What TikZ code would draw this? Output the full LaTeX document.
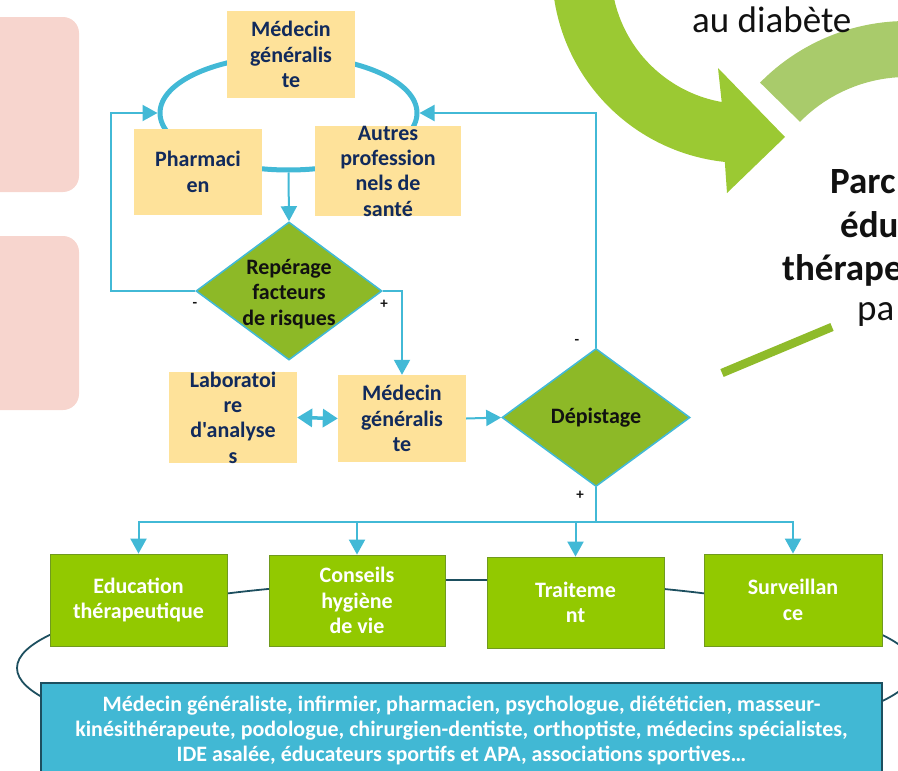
\documentclass[tikz,border=0pt]{standalone}
\usepackage{fontspec}
\setmainfont{Carlito}[Ligatures=TeXOff]
\usetikzlibrary{arrows.meta,shapes.geometric}
\definecolor{pinkbg}{HTML}{F7D5CE}
\definecolor{yel}{HTML}{FEE29A}
\definecolor{navy}{HTML}{112A5C}
\definecolor{lblue}{HTML}{42B9D6}
\definecolor{olive}{HTML}{8DB927}
\definecolor{brgreen}{HTML}{92C900}
\definecolor{gborder}{HTML}{709A1E}
\definecolor{dteal}{HTML}{1D4F5F}
\definecolor{boxblue}{HTML}{41B8D4}
\definecolor{arrowgreen}{HTML}{9BC933}
\definecolor{lightgreen}{HTML}{A9CB6B}
\definecolor{linegreen}{HTML}{8FBB2A}
\definecolor{inkblack}{HTML}{111111}
\newcommand{\myboxfont}{\fontsize{22}{25.3}\selectfont\bfseries}
\newcommand{\mybluefont}{\fontsize{22}{25}\selectfont\bfseries}
\newcommand{\mybigfont}{\fontsize{37}{42}\selectfont}
\begin{document}
\begin{tikzpicture}[x=1pt,y=-1pt,
  tri/.tip={Triangle[width=16pt,length=15pt]},
  ybox/.style={rectangle, fill=yel, draw=none, inner sep=0pt, minimum width=128pt, minimum height=87pt, align=center, text=navy, font=\myboxfont},
  gbox/.style={rectangle, fill=brgreen, draw=gborder, line width=0.8pt, inner sep=0pt, minimum height=92pt, align=center, text=white, font=\myboxfont},
  dia/.style={diamond, fill=olive, draw=lblue, line width=1.6pt, inner sep=0pt, minimum width=186pt, minimum height=138pt},
  dtext/.style={align=center, text=inkblack, font=\myboxfont, inner sep=0pt},
  conn/.style={draw=lblue, line width=2pt},
  sign/.style={text=inkblack, font=\fontsize{15}{15}\selectfont\bfseries, inner sep=0pt},
  bigtxt/.style={anchor=base west, inner sep=0pt, text=inkblack, font=\mybigfont}
]
\useasboundingbox (0,0) rectangle (898,771);
\clip (0,0) rectangle (898,771);

% pink background panels (left, cropped)
\fill[pinkbg, rounded corners=16pt] (-40,17) rectangle (79,192);
\fill[pinkbg, rounded corners=16pt] (-40,236) rectangle (79,410);

% big green curved arrow (top right, cropped)
\fill[arrowgreen] (745,-30) ++(200:193) arc[start angle=200, end angle=96, radius=193]
  -- (727,193) -- (785,137) -- (718,68) -- (721.7,102.0)
  arc[start angle=100, end angle=200, radius=134] -- cycle;
% light green band
\fill[lightgreen] (907,227) ++(224.5:206) arc[start angle=224.5, end angle=285, radius=206]
  -- (945.8,82.1) arc[start angle=285, end angle=224.5, radius=150] -- cycle;
% green bar
\draw[linegreen, line width=8.5pt] (722,373) -- (832,327);

% cropped texts on the right
\node[bigtxt] (diab) at (692,32) {au diabète};
\node[bigtxt, font=\mybigfont\bfseries] (parc1) at (830,193) {Parc};
\node[bigtxt, font=\mybigfont\bfseries] (parc2) at (840,237) {édu};
\node[bigtxt, font=\mybigfont\bfseries] (parc3) at (782,280) {thérape};
\node[bigtxt] (parc4) at (857,320) {pa};

% bottom cycle ellipse
\node[ellipse, draw=dteal, line width=1.8pt, inner sep=0pt, minimum width=898pt, minimum height=176pt] (cyc) at (466,668) {};

% blue team box
\node[rectangle, fill=boxblue, draw=dteal, line width=1.8pt, inner sep=0pt, minimum width=841pt, minimum height=130pt] (team) at (461.5,748) {};
\node[align=center, text=white, font=\mybluefont, inner sep=0pt] (teamtxt) at (461.5,730.5)
  {Médecin généraliste, infirmier, pharmacien, psychologue, diététicien, masseur-\\
   kinésithérapeute, podologue, chirurgien-dentiste, orthoptiste, médecins spécialistes,\\
   IDE asalée, éducateurs sportifs et APA, associations sportives…};

% green boxes
\node[gbox, minimum width=177pt] (edu) at (138.5,600) {Education\\thérapeutique};
\node[gbox, minimum width=176pt, minimum height=91pt] (con) at (357,600.5) {Conseils\\hygiène\\de vie};
\node[gbox, minimum width=177pt, minimum height=91pt] (tra) at (575.5,602.5) {Traiteme\\nt};
\node[gbox, minimum width=178pt] (sur) at (793,600) {Surveillan\\ce};

% top ring
\node[ellipse, draw=lblue, line width=5pt, inner sep=0pt, minimum width=257pt, minimum height=114pt] (ring) at (288.5,113) {};

% yellow boxes
\node[ybox] (mg1) at (291,54.5) {Médecin\\généralis\\te};
\node[ybox, minimum height=86pt] (ph) at (198,172) {Pharmaci\\en};
\node[ybox, minimum width=146pt, minimum height=86pt] (ap) at (388,171) {Autres\\profession\\nels de\\santé};
\node[ybox] (lab) at (233,417.5) {Laboratoi\\re\\d'analyse\\s};
\node[ybox] (mg2) at (402,418.5) {Médecin\\généralis\\te};

% diamonds
\node[dia] (rep) at (289,291) {};
\node[dtext] (reptxt) at (289,294) {Repérage\\facteurs\\de risques};
\node[dia, minimum width=188pt] (dep) at (596,417.5) {};
\node[dtext] (deptxt) at (dep) {Dépistage};

% connectors
\draw[conn, -{tri}] (ring.south) -- (rep.north);
\draw[conn, -{tri}] (rep.west) -- ++(-84,0) |- (ring.west);
\draw[conn, -{tri}] (rep.east) -| (mg2.north);
\draw[conn, -{tri}] (dep.north) |- (ring.east);
\draw[draw=lblue, line width=3.5pt, {Triangle[width=18pt,length=15pt]}-{Triangle[width=18pt,length=15pt]}] (lab.east) -- (mg2.west);
\draw[conn, -{tri}] (mg2.east) -- (dep.west);
\draw[conn] (dep.south) -- ++(0,35) coordinate (hub);
\draw[conn, -{tri}] (hub) -| (edu.north);
\draw[conn, -{tri}] (hub) -| (con.north);
\draw[conn, -{tri}] (hub) -| (tra.north);
\draw[conn, -{tri}] (hub) -| (sur.north);

% signs
\node[sign] (repm) at (195,305) {-};
\node[sign] (repp) at (384,304) {+};
\node[sign] (depm) at (577,342) {-};
\node[sign] (depp) at (580,495) {+};
\end{tikzpicture}
\end{document}
